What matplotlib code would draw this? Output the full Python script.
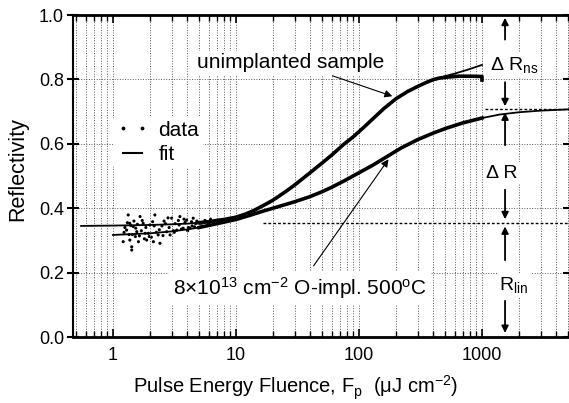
import matplotlib
matplotlib.use('Agg')
import matplotlib.pyplot as plt
from matplotlib.lines import Line2D
from matplotlib.ticker import FixedLocator, NullFormatter

plt.rcParams['font.family'] = ['Liberation Sans', 'DejaVu Sans']
plt.rcParams['mathtext.fontset'] = 'custom'
plt.rcParams['mathtext.rm'] = 'Liberation Sans'
plt.rcParams['mathtext.it'] = 'Liberation Sans:italic'
plt.rcParams['mathtext.bf'] = 'Liberation Sans:bold'

# fit curves
fit_unimpl_x = [0.55, 1, 2, 3, 4, 5, 6, 7, 8, 10, 12, 14, 17, 20, 25, 30, 40, 50, 60, 75, 90,
                110, 130, 160, 200, 250, 300, 350, 400, 500, 600, 750, 1000]
fit_unimpl_y = [0.345, 0.346, 0.348, 0.350, 0.352, 0.355, 0.358, 0.362, 0.365, 0.372, 0.382, 0.393,
                0.410, 0.425, 0.450, 0.472, 0.510, 0.540, 0.565, 0.598, 0.622, 0.652, 0.678, 0.710,
                0.740, 0.763, 0.778, 0.790, 0.799, 0.810, 0.818, 0.829, 0.845]

fit_impl_x = [1, 2, 3, 4, 5, 7, 10, 13, 16, 20, 25, 30, 40, 50, 60, 75, 100, 130, 170, 220, 300,
              400, 500, 700, 1000, 1400, 2000, 3000, 5100]
fit_impl_y = [0.317, 0.322, 0.328, 0.334, 0.340, 0.352, 0.365, 0.378, 0.389, 0.400, 0.411, 0.420,
              0.436, 0.451, 0.465, 0.484, 0.510, 0.534, 0.561, 0.587, 0.613, 0.633, 0.647, 0.665,
              0.680, 0.691, 0.698, 0.703, 0.707]

# dense measured data seen as thick traces
data_unimpl_x = [5, 6, 7, 8, 10, 12, 14, 17, 20, 25, 30, 40, 50, 60, 75, 90, 110, 130, 160, 200,
                 250, 300, 350, 400, 450, 520, 650, 800, 1000, 1000]
data_unimpl_y = [0.355, 0.358, 0.362, 0.365, 0.372, 0.382, 0.393, 0.410, 0.425, 0.450, 0.472, 0.510,
                 0.540, 0.565, 0.598, 0.622, 0.652, 0.678, 0.710, 0.740, 0.763, 0.778, 0.790, 0.799,
                 0.804, 0.807, 0.810, 0.810, 0.809, 0.798]

data_impl_x = [5, 7, 10, 13, 16, 20, 25, 30, 40, 50, 60, 75, 100, 130, 170, 220, 300, 400, 500, 700, 1000]
data_impl_y = [0.340, 0.352, 0.365, 0.378, 0.389, 0.400, 0.411, 0.420, 0.436, 0.451, 0.465, 0.484,
               0.510, 0.534, 0.561, 0.587, 0.613, 0.633, 0.647, 0.665, 0.680]

# noisy low-fluence points
scatter_x = [1.21, 1.25, 1.29, 1.33, 1.35, 1.37, 1.37, 1.40, 1.42, 1.42, 1.46, 1.48, 1.52, 1.56, 1.58,
             1.61, 1.66, 1.70, 1.76, 1.80, 1.85, 1.88, 1.94, 1.99, 2.05, 2.10, 2.13, 2.19, 2.25, 2.33,
             2.41, 2.50, 2.60, 2.73, 2.80, 2.91, 3.00, 3.10, 3.20, 3.30, 3.40, 3.50, 3.60, 3.72, 3.85,
             3.97, 4.10, 4.23, 4.35, 4.49, 4.60, 4.80, 5.10, 5.30, 5.60, 5.90, 6.20, 6.50,
             1.23, 1.31, 1.44, 1.53, 1.64, 1.73, 1.83, 1.97, 2.16, 2.38, 2.55, 2.67, 2.86, 3.15,
             3.45, 3.78, 4.05, 4.40, 4.70, 5.00]
scatter_y = [0.296, 0.340, 0.332, 0.379, 0.318, 0.353, 0.301, 0.346, 0.280, 0.270, 0.343, 0.360, 0.312,
             0.327, 0.350, 0.296, 0.374, 0.330, 0.353, 0.305, 0.340, 0.301, 0.322, 0.348, 0.310, 0.358,
             0.296, 0.379, 0.325, 0.317, 0.291, 0.345, 0.360, 0.327, 0.370, 0.317, 0.369, 0.330, 0.352,
             0.332, 0.362, 0.374, 0.335, 0.338, 0.356, 0.363, 0.340, 0.338, 0.358, 0.369, 0.342, 0.360,
             0.353, 0.345, 0.362, 0.350, 0.366, 0.357,
             0.325, 0.355, 0.318, 0.338, 0.314, 0.362, 0.322, 0.312, 0.345, 0.333, 0.315, 0.352,
             0.340, 0.325, 0.348, 0.366, 0.330, 0.345, 0.352, 0.340]

fig = plt.figure(figsize=(5.69, 4.03), dpi=100)
ax = fig.add_axes([73/569, 66/403, 496/569, 322/403])

ax.plot(fit_unimpl_x, fit_unimpl_y, color='k', lw=1.3)
ax.plot(fit_impl_x, fit_impl_y, color='k', lw=1.3)
ax.plot(data_unimpl_x, data_unimpl_y, color='k', lw=2.6)
ax.plot(data_impl_x, data_impl_y, color='k', lw=2.6)
ax.scatter(scatter_x, scatter_y, s=5, color='k', edgecolor='none')

ax.set_xscale('log')
ax.set_xlim(0.473, 5100)
ax.set_ylim(0, 1.0)
ax.set_xticks([1, 10, 100, 1000])
ax.set_xticklabels(['1', '10', '100', '1000'])
ax.xaxis.set_minor_locator(FixedLocator([m * 10**e for e in range(-1, 4) for m in range(2, 10)]))
ax.xaxis.set_minor_formatter(NullFormatter())
ax.set_yticks([0, 0.2, 0.4, 0.6, 0.8, 1.0])
ax.set_yticklabels(['0.0', '0.2', '0.4', '0.6', '0.8', '1.0'])

ax.tick_params(axis='x', which='major', direction='in', length=6, width=1.2, top=True, labelsize=13, pad=7)
ax.tick_params(axis='x', which='minor', direction='in', length=4, width=1, top=True)
ax.tick_params(axis='y', which='major', direction='inout', length=9, width=1.5, right=True, labelsize=13, pad=2)

ax.grid(True, which='both', axis='x', ls=':', color='0.35', lw=0.7)
ax.grid(True, which='major', axis='y', ls=':', color='0.35', lw=0.7)
for side in ['top', 'bottom']:
    ax.spines[side].set_linewidth(2)
ax.spines['left'].set_linewidth(1.5)

ax.set_xlabel('Pulse Energy Fluence, F$_{\\rm p}$  (μJ cm$^{-2}$)', fontsize=14.5)
ax.xaxis.set_label_coords((296 - 73) / 496, -0.115)
ax.set_ylabel('Reflectivity', fontsize=15.5)
ax.yaxis.set_label_coords(-(73 - 28) / 496, 0.52)

# reference levels
ax.plot([1050, 5100], [0.707, 0.707], color='k', lw=1, ls=(0, (2, 1.5)))
ax.plot([16.6, 5100], [0.355, 0.355], color='k', lw=1, ls=(0, (2, 1.5)))

bbox = dict(facecolor='white', edgecolor='none', pad=1.5)
ax.text(28, 0.851, 'unimplanted sample', fontsize=15, ha='center', va='center', bbox=bbox)
ax.text(33, 0.152, '8×10$^{13}$ cm$^{-2}$ O-impl. 500$^{\\rm o}$C', fontsize=15,
        ha='center', va='center', bbox=dict(facecolor='white', edgecolor='none', pad=3))
arw = dict(arrowstyle='-|>', color='k', lw=0.8, mutation_scale=11)
ax.annotate('', xy=(196, 0.745), xytext=(58, 0.814), arrowprops=arw)
ax.annotate('', xy=(179, 0.559), xytext=(41.5, 0.214), arrowprops=arw)

# Delta R markers
xa = 1540
arw2 = dict(arrowstyle='-|>', color='k', lw=1.3, mutation_scale=10)
for y0, y1 in [(0.915, 1.0), (0.80, 0.708), (0.587, 0.706), (0.466, 0.357), (0.23, 0.352), (0.121, 0.004)]:
    ax.annotate('', xy=(xa, y1), xytext=(xa, y0), arrowprops=arw2)
ax.text(1820, 0.845, 'Δ R$_{\\rm ns}$', fontsize=14, ha='center', va='center', bbox=bbox)
ax.text(1455, 0.509, 'Δ R', fontsize=14, ha='center', va='center', bbox=bbox)
ax.text(1820, 0.161, 'R$_{\\rm lin}$', fontsize=14, ha='center', va='center', bbox=bbox)

handles = [Line2D([], [], ls='none', marker='.', color='k', ms=3.5),
           Line2D([], [], color='k', lw=1.5)]
leg = ax.legend(handles, ['data', 'fit'], loc='upper left', bbox_to_anchor=(0.08, 0.685),
                numpoints=2, handlelength=1.5, handletextpad=0.5, labelspacing=0.25,
                fontsize=15, frameon=True, borderpad=0.2, borderaxespad=0)
leg.get_frame().set_facecolor('white')
leg.get_frame().set_edgecolor('none')
leg.get_frame().set_alpha(1)

fig.savefig('out.png', dpi=100)
